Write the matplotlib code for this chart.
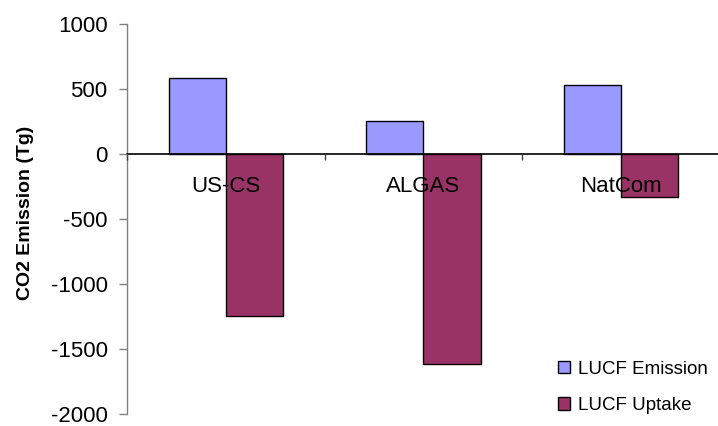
import matplotlib
matplotlib.use("Agg")
import matplotlib.pyplot as plt
import numpy as np

plt.rcParams['font.family'] = ['Liberation Sans', 'DejaVu Sans']

# Land-use change and forestry CO2 fluxes by inventory source
categories = ["US-CS", "ALGAS", "NatCom"]
lucf_emission = [588, 258, 530]
lucf_uptake = [-1243, -1615, -326]
series_labels = ["LUCF Emission", "LUCF Uptake"]
y_ticks = [-2000, -1500, -1000, -500, 0, 500, 1000]

W, H = 718, 426
fig = plt.figure(figsize=(W / 100, H / 100), dpi=100)
left_px, top_px, bottom_px = 127, 24.3, 414
ax_w = W - left_px
ax = fig.add_axes([left_px / W, 1 - bottom_px / H, ax_w / W, (bottom_px - top_px) / H])

x = np.arange(len(categories))
bw = 0.29
ax.bar(x - bw / 2, lucf_emission, width=bw, color="#9999FF", edgecolor="black",
       linewidth=1.0, label=series_labels[0], zorder=1)
ax.bar(x + bw / 2, lucf_uptake, width=bw, color="#993366", edgecolor="black",
       linewidth=1.0, label=series_labels[1], zorder=1)
ax.set_axisbelow(False)

ax.set_ylim(-2000, 1000)
ax.set_xlim(-0.5, 2.49)
ax.set_yticks(y_ticks)
ax.set_yticklabels([str(v) for v in y_ticks], fontsize=16)

# category axis sits on the zero line
for s in ("top", "right"):
    ax.spines[s].set_visible(False)
ax.spines["left"].set_color("#808080")
ax.spines["left"].set_linewidth(1.0)
ax.spines["bottom"].set_position(("data", 0))
ax.spines["bottom"].set_color("black")
ax.spines["bottom"].set_linewidth(1.2)

ax.set_xticks(x)
ax.set_xticklabels(categories, fontsize=16)
ax.tick_params(axis="x", which="major", length=0, pad=16)
ax.set_xticks([-0.5, 0.5, 1.5], minor=True)
ax.tick_params(axis="x", which="minor", length=4, width=1.0, color="#404040", direction="out")
ax.tick_params(axis="y", length=6, width=1.0, color="#808080", pad=8)

ax.set_ylabel("CO2 Emission (Tg)", fontsize=14, fontweight="bold")
ax.yaxis.set_label_coords((34 - left_px) / ax_w, 0.517)

ax.legend(loc="upper left", bbox_to_anchor=(558 / W, 1 - 360.5 / H),
          bbox_transform=fig.transFigure, frameon=False, fontsize=13.5,
          handlelength=0.66, handleheight=0.66, handletextpad=0.4,
          labelspacing=1.03, borderpad=0, borderaxespad=0)

fig.savefig("out.png", dpi=100)
